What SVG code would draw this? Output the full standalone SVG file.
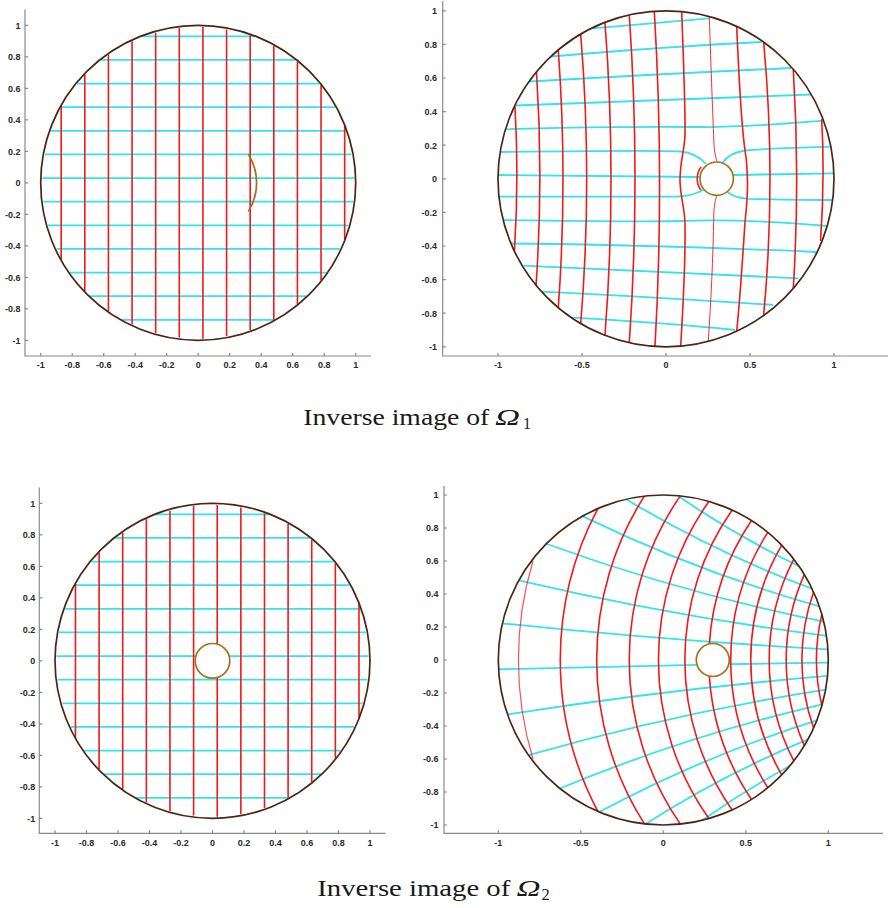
<svg xmlns="http://www.w3.org/2000/svg" width="889" height="908" viewBox="0 0 889 908">
<style>
.red{fill:none;stroke:#f2191c;stroke-width:1.6}
.thin{fill:none;stroke:#f2191c;stroke-width:0.9}
.faint{fill:none;stroke:#f2191c;stroke-width:1.2;stroke-opacity:0.75}
.cyan{fill:none;stroke:#35e3ec;stroke-width:1.8}
.rim{fill:none;stroke:#4b2612;stroke-width:1.7}
.hole{fill:#fff;stroke:#a86f1f;stroke-width:1.7}
.slit{fill:none;stroke:#a86f1f;stroke-width:1.7}
.axis{fill:none;stroke:#8a8a8a;stroke-width:1.2}
.tk{font-family:'Liberation Sans',Arial,sans-serif;font-size:9px;font-weight:bold;fill:#2a2a2a}
.yl{text-anchor:end}
.xl{text-anchor:middle}
.cap{font-family:'Liberation Serif','Times New Roman',serif;fill:#1a1a1a}
.br path,.br circle{vector-effect:non-scaling-stroke}
</style>
<rect width="889" height="908" fill="#fff"/>

<!-- ===== Top-left plot ===== -->
<g id="plot-top-left">
 <g id="tl-axes">
  <path class="axis" d="M25,9.6V356H371"/>
  <path class="axis" d="M25,25.3h3M25,56.8h3M25,88.3h3M25,119.8h3M25,151.3h3M25,182.8h3M25,214.3h3M25,245.8h3M25,277.3h3M25,308.8h3M25,340.3h3M40.7,356v-3M72.2,356v-3M103.7,356v-3M135.2,356v-3M166.7,356v-3M198.2,356v-3M229.7,356v-3M261.2,356v-3M292.7,356v-3M324.2,356v-3M355.7,356v-3"/>
  <g class="tk yl">
   <text x="20.5" y="28.6">1</text><text x="20.5" y="60.1">0.8</text><text x="20.5" y="91.6">0.6</text><text x="20.5" y="123.1">0.4</text><text x="20.5" y="154.6">0.2</text><text x="20.5" y="186.1">0</text><text x="20.5" y="217.6">-0.2</text><text x="20.5" y="249.1">-0.4</text><text x="20.5" y="280.6">-0.6</text><text x="20.5" y="312.1">-0.8</text><text x="20.5" y="343.6">-1</text>
  </g>
  <g class="tk xl">
   <text x="40.7" y="368">-1</text><text x="72.2" y="368">-0.8</text><text x="103.7" y="368">-0.6</text><text x="135.2" y="368">-0.4</text><text x="166.7" y="368">-0.2</text><text x="198.2" y="368">0</text><text x="229.7" y="368">0.2</text><text x="261.2" y="368">0.4</text><text x="292.7" y="368">0.6</text><text x="324.2" y="368">0.8</text><text x="355.7" y="368">1</text>
  </g>
 </g>
 <g id="tl-grid" transform="translate(198.2,182.8)">
  <path class="cyan" d="M-57.31,-146.48H57.31M-97.57,-122.85H97.57M-121.09,-99.23H121.09M-136.79,-75.6H136.79M-147.19,-51.98H147.19M-153.38,-28.35H153.38M-155.85,-4.73H155.85M-154.8,18.9H154.8M-150.13,42.53H150.13M-141.51,66.15H141.51M-128.11,89.78H128.11M-108.21,113.4H108.21M-76.88,137.03H76.88"/>
  <path class="red" d="M-137.03,-76.88V76.88M-113.4,-108.21V108.21M-89.78,-128.11V128.11M-66.15,-141.51V141.51M-42.53,-150.13V150.13M-18.9,-154.8V154.8M4.73,-155.85V155.85M28.35,-153.38V153.38M51.98,-147.19V147.19M75.6,-136.79V136.79M99.23,-121.09V121.09M122.85,-97.57V97.57M146.48,-57.31V57.31"/>
 </g>
 <circle id="tl-rim" class="rim" cx="198.2" cy="182.8" r="157.5"/>
 <path id="tl-slit" class="slit" d="M248.3,154 A54.3,54.3 0 0 1 248.3,211.6"/>
</g>

<!-- ===== Top-right plot ===== -->
<g id="plot-top-right">
 <g id="tr-axes">
  <path class="axis" d="M442.7,1V356H888"/>
  <path class="axis" d="M442.7,10.8h3M442.7,44.4h3M442.7,78h3M442.7,111.6h3M442.7,145.2h3M442.7,178.8h3M442.7,212.4h3M442.7,246h3M442.7,279.6h3M442.7,313.2h3M442.7,346.8h3M498,356v-3M582,356v-3M666,356v-3M750,356v-3M834,356v-3"/>
  <g class="tk yl">
   <text x="437" y="14.1">1</text><text x="437" y="47.7">0.8</text><text x="437" y="81.3">0.6</text><text x="437" y="114.9">0.4</text><text x="437" y="148.5">0.2</text><text x="437" y="182.1">0</text><text x="437" y="215.7">-0.2</text><text x="437" y="249.3">-0.4</text><text x="437" y="282.9">-0.6</text><text x="437" y="316.5">-0.8</text><text x="437" y="350.1">-1</text>
  </g>
  <g class="tk xl">
   <text x="498" y="368">-1</text><text x="582" y="368">-0.5</text><text x="666" y="368">0</text><text x="750" y="368">0.5</text><text x="834" y="368">1</text>
  </g>
 </g>
 <g id="tr-grid">
  <path class="cyan" d="M593,28.3L709,18.3
  M551.7,56.5Q668,46.5 761.7,42
  M530,81.5Q668,73.5 791,68
  M516,105.5Q668,99.5 811,94.5
  M505,129.3C580,127 650,126.5 700,127C740,127.5 780,124 823,120.7
  M500.5,152C580,151 660,150 680,151.5C692,152.5 700,157 706,164
  M722.5,163C727,156 735,152 745,150.5C775,148 805,147.5 830.5,146.7
  M498.3,175L700.3,177
  M733.3,175L834,173.3
  M499.5,196.7C580,196.8 660,197 678,196.5C690,196 698,193 704,189.5
  M727.5,192C732,196 738,198 748,198.8C780,199.5 805,200 832,200
  M503,220C580,221 640,222 680,221C720,219.5 760,220 827,226
  M511.7,243.5Q660,245 816.5,252
  M523.3,265.7Q668,272 798.3,278.3
  M541.7,291.7Q668,298 773.3,305
  M571.7,317.7Q668,323 735,330"/>
  <path class="red" d="M515,106.5Q519,179 514.5,250
  M536.5,72Q543.5,179 536,286
  M558.3,50.5Q567.7,179 558.3,307.5
  M580.7,34.5Q592.7,179 580.7,323.5
  M605,23Q617,179 605,335
  M629.3,15.5Q640.7,179 629.3,342.5
  M654.3,11.5Q664.5,179 655,346.3
  M681.7,11.5C683.5,60 685.5,110 685,135C684.5,150 680,162 680,180C680,196 685,208 685,225C685.5,260 683.5,300 680.7,346
  M736.7,26.4C739,80 742,130 745,150C747,162 747.5,172 747.5,185C747.5,200 746,212 745,222C742.5,260 740,300 736.7,331
  M763.7,42.5Q776.3,179 763.7,315
  M793.3,69.5Q800.1,179 793.3,288
  M821.7,119Q825,179 820.5,241
  M701.1,167A19.5,19.5 0 0 0 700.8,190"/>
  <path class="thin" d="M709.3,16.5C711,70 713,120 714,145C714.5,153 716,158 717,162M717,195.3C715.5,199 714,205 713.8,215C713,260 711,300 708.3,341.4"/>
 </g>
 <circle id="tr-rim" class="rim" cx="666" cy="178.8" r="168"/>
 <circle id="tr-hole" class="hole" cx="716.7" cy="178.7" r="16.7"/>
</g>

<!-- ===== Bottom-left plot ===== -->
<g id="plot-bottom-left">
 <g id="bl-axes">
  <path class="axis" d="M39.3,487.5V833.3H385.5"/>
  <path class="axis" d="M39.3,503.3h3M39.3,534.8h3M39.3,566.3h3M39.3,597.8h3M39.3,629.3h3M39.3,660.8h3M39.3,692.3h3M39.3,723.8h3M39.3,755.3h3M39.3,786.8h3M39.3,818.3h3M55,833.3v-3M86.5,833.3v-3M118,833.3v-3M149.5,833.3v-3M181,833.3v-3M212.5,833.3v-3M244,833.3v-3M275.5,833.3v-3M307,833.3v-3M338.5,833.3v-3M370,833.3v-3"/>
  <g class="tk yl">
   <text x="35.3" y="506.6">1</text><text x="35.3" y="538.1">0.8</text><text x="35.3" y="569.6">0.6</text><text x="35.3" y="601.1">0.4</text><text x="35.3" y="632.6">0.2</text><text x="35.3" y="664.1">0</text><text x="35.3" y="695.6">-0.2</text><text x="35.3" y="727.1">-0.4</text><text x="35.3" y="758.6">-0.6</text><text x="35.3" y="790.1">-0.8</text><text x="35.3" y="821.6">-1</text>
  </g>
  <g class="tk xl">
   <text x="55" y="846">-1</text><text x="86.5" y="846">-0.8</text><text x="118" y="846">-0.6</text><text x="149.5" y="846">-0.4</text><text x="181" y="846">-0.2</text><text x="212.5" y="846">0</text><text x="244" y="846">0.2</text><text x="275.5" y="846">0.4</text><text x="307" y="846">0.6</text><text x="338.5" y="846">0.8</text><text x="370" y="846">1</text>
  </g>
 </g>
 <g id="bl-grid" transform="translate(212.5,660.8)">
  <path class="cyan" d="M-57.31,-146.48H57.31M-97.57,-122.85H97.57M-121.09,-99.23H121.09M-136.79,-75.6H136.79M-147.19,-51.98H147.19M-153.38,-28.35H153.38M-155.85,-4.73H-16.6M16.6,-4.73H155.85M-154.8,18.9H154.8M-150.13,42.53H150.13M-141.51,66.15H141.51M-128.11,89.78H128.11M-108.21,113.4H108.21M-76.88,137.03H76.88"/>
  <path class="red" d="M-137.03,-76.88V76.88M-113.4,-108.21V108.21M-89.78,-128.11V128.11M-66.15,-141.51V141.51M-42.53,-150.13V150.13M-18.9,-154.8V154.8M4.73,-155.85V-16.6M4.73,16.6V155.85M28.35,-153.38V153.38M51.98,-147.19V147.19M75.6,-136.79V136.79M99.23,-121.09V121.09M122.85,-97.57V97.57M146.48,-57.31V57.31"/>
 </g>
 <circle id="bl-rim" class="rim" cx="212.5" cy="660.8" r="157.5"/>
 <circle id="bl-hole" class="hole" cx="212.5" cy="660.8" r="17.3"/>
</g>

<!-- ===== Bottom-right plot ===== -->
<g id="plot-bottom-right">
 <g id="br-axes">
  <path class="axis" d="M444,486V833.3H883"/>
  <path class="axis" d="M444,495h3M444,528h3M444,561h3M444,594h3M444,627h3M444,660h3M444,693h3M444,726h3M444,759h3M444,792h3M444,825h3M498.3,833.3v-3M580.8,833.3v-3M663.3,833.3v-3M745.8,833.3v-3M828.3,833.3v-3"/>
  <g class="tk yl">
   <text x="438.5" y="498.3">1</text><text x="438.5" y="531.3">0.8</text><text x="438.5" y="564.3">0.6</text><text x="438.5" y="597.3">0.4</text><text x="438.5" y="630.3">0.2</text><text x="438.5" y="663.3">0</text><text x="438.5" y="696.3">-0.2</text><text x="438.5" y="729.3">-0.4</text><text x="438.5" y="762.3">-0.6</text><text x="438.5" y="795.3">-0.8</text><text x="438.5" y="828.3">-1</text>
  </g>
  <g class="tk xl">
   <text x="498.3" y="846">-1</text><text x="580.8" y="846">-0.5</text><text x="663.3" y="846">0</text><text x="745.8" y="846">0.5</text><text x="828.3" y="846">1</text>
  </g>
 </g>
 <g id="br-grid" class="br" transform="translate(663.3,660) scale(165,-165)">
  <path class="cyan" d="M0.7666,-0.6421A5.303,5.303 0 0 1 0.2364,-0.9717
  M0.8766,-0.4812A6.3228,6.3228 0 0 1 -0.1075,-0.9942
  M0.9307,-0.3659A7.8279,7.8279 0 0 1 -0.3887,-0.9214
  M0.9633,-0.2683A10.2744,10.2744 0 0 1 -0.6275,-0.7786
  M0.9837,-0.18A14.9447,14.9447 0 0 1 -0.8167,-0.577
  M0.9953,-0.0968A27.397,27.397 0 0 1 -0.944,-0.3301
  M0.9999,-0.016L0.3967,-0.0257M0.2044,-0.0291L-0.9984,-0.0561
  M0.9979,0.0643A41.098,41.098 0 0 0 -0.9749,0.2225
  M0.9893,0.1462A18.266,18.266 0 0 0 -0.8757,0.4828
  M0.9727,0.2321A11.742,11.742 0 0 0 -0.7098,0.7044
  M0.9456,0.3254A8.6522,8.6522 0 0 0 -0.4894,0.872
  M0.9019,0.432A6.8496,6.8496 0 0 0 -0.2251,0.9743
  M0.8232,0.5678A5.6687,5.6687 0 0 0 0.0862,0.9963"/>
  <path class="faint" d="M-0.79,0.6A2.0845,2.0845 0 0 1 -0.79,-0.6"/>
  <path class="red" d="M-0.396,0.9183A1.9602,1.9602 0 0 1 -0.396,-0.9183
  M-0.1144,0.9934A1.8499,1.8499 0 0 1 -0.1144,-0.9934
  M0.1032,0.9947A1.7514,1.7514 0 0 1 0.1032,-0.9947
  M0.2763,0.9611A1.6628,1.6628 0 0 1 0.2763,-0.9611
  M0.4174,0.9087A1.5827,1.5827 0 0 1 0.4174,-0.9087
  M0.5346,0.8451A1.5101,1.5101 0 0 1 0.2791,0.0977M0.2791,-0.0977A1.5101,1.5101 0 0 1 0.5346,-0.8451
  M0.6334,0.7738A1.4437,1.4437 0 0 1 0.6334,-0.7738
  M0.7179,0.6961A1.383,1.383 0 0 1 0.7179,-0.6961
  M0.791,0.6118A1.3272,1.3272 0 0 1 0.791,-0.6118
  M0.8549,0.5188A1.2757,1.2757 0 0 1 0.8549,-0.5188
  M0.9111,0.4121A1.228,1.228 0 0 1 0.9111,-0.4121
  M0.9611,0.2763A1.1838,1.1838 0 0 1 0.9611,-0.2763"/>
  <circle id="br-rim" class="rim" cx="0" cy="0" r="1"/>
  <circle id="br-hole" class="hole" cx="0.3" cy="0" r="0.1"/>
 </g>
</g>

<!-- ===== Captions ===== -->
<g id="caption-1" class="cap">
 <text x="303.3" y="425" font-size="23" textLength="186" lengthAdjust="spacingAndGlyphs">Inverse image of</text>
 <text x="495" y="425" font-size="23" font-style="italic" textLength="25" lengthAdjust="spacingAndGlyphs">Ω</text>
 <text x="523" y="428.5" font-size="16">1</text>
</g>
<g id="caption-2" class="cap">
 <text x="317.3" y="896.3" font-size="24" textLength="193" lengthAdjust="spacingAndGlyphs">Inverse image of</text>
 <text x="516.5" y="896.3" font-size="24" font-style="italic" textLength="24" lengthAdjust="spacingAndGlyphs">Ω</text>
 <text x="541.5" y="900" font-size="16.5">2</text>
</g>
</svg>
